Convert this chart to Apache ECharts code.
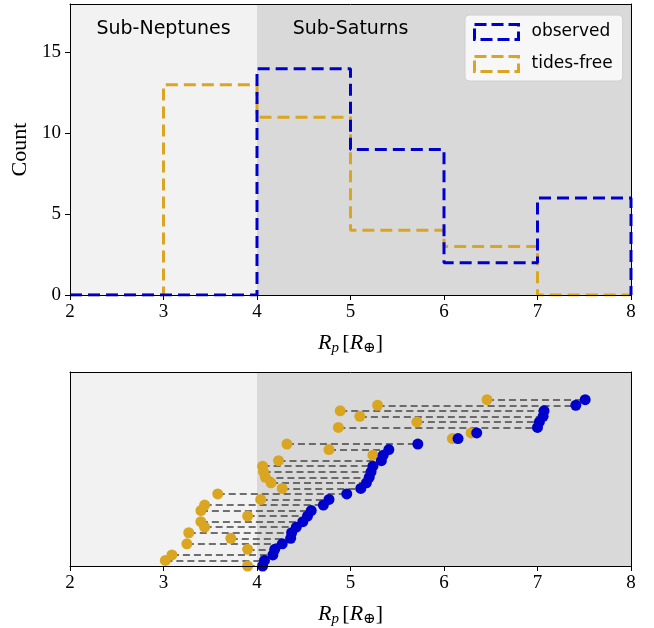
<!DOCTYPE html>
<html>
<head>
<meta charset="utf-8">
<script src="https://cdn.jsdelivr.net/npm/echarts@6/dist/echarts.min.js"></script>
<style>
  html, body { margin: 0; padding: 0; background: #fff; }
  #chart { width: 654px; height: 628px; }
</style>
</head>
<body>
<div id="chart"></div>
<script>
// histogram bins
const binEdges = [2, 3, 4, 5, 6, 7, 8];
const observedCounts = [0, 0, 14, 9, 2, 6];
const tidesFreeCounts = [0, 13, 11, 4, 3, 0];

// per planet radii, ordered by observed radius (row index = position in list)
const rpObserved = [4.06, 4.08, 4.17, 4.19, 4.27, 4.36, 4.37, 4.42, 4.49, 4.54, 4.58, 4.71, 4.77, 4.96,
  5.11, 5.17, 5.20, 5.22, 5.24, 5.33, 5.35, 5.41, 5.72, 6.15, 6.35, 7.00, 7.02, 7.06, 7.07, 7.41, 7.51];
const rpTidesFree = [3.90, 3.02, 3.09, 3.90, 3.25, 3.72, 3.27, 3.44, 3.40, 3.90, 3.40, 3.44, 4.04, 3.58,
  4.27, 4.15, 4.09, 4.07, 4.06, 4.23, 5.24, 4.77, 4.32, 6.09, 6.29, 4.87, 5.71, 5.10, 4.89, 5.29, 6.46];

const xTicks = [2, 3, 4, 5, 6, 7, 8];
const yTicksTop = [0, 5, 10, 15];

const BLUE = '#0000cd';
const GOLD = '#daa520';
const serif = 'Liberation Serif, DejaVu Serif, serif';
const sans = 'DejaVu Sans, sans-serif';

// step outline like matplotlib histtype='step'
function stepData(edges, counts) {
  let pts = [[edges[0], 0]];
  for (let i = 0; i < counts.length; i++) pts.push([edges[i], counts[i]]);
  pts.push([edges[edges.length - 1], counts[counts.length - 1]]);
  pts.push([edges[edges.length - 1], 0]);
  return pts;
}

const rows = rpObserved.map((v, i) => i);
const pairLines = rows.map(i => ({ coords: [[rpTidesFree[i], i], [rpObserved[i], i]] }));

const shade = {
  silent: true,
  data: [
    [{ xAxis: 2, itemStyle: { color: '#f2f2f2' } }, { xAxis: 4 }],
    [{ xAxis: 4, itemStyle: { color: '#d9d9d9' } }, { xAxis: 8 }]
  ]
};

const xLabelName = '{it|R}{sub|p} {n|[}{it|R}{sub|⊕}{n|]}';
const nameRich = {
  it: { fontFamily: serif, fontStyle: 'italic', fontSize: 22, color: '#000' },
  sub: { fontFamily: serif, fontStyle: 'italic', fontSize: 15, color: '#000', verticalAlign: 'bottom', padding: [10, 0, 0, 0] },
  n: { fontFamily: serif, fontSize: 22, color: '#000' }
};

function mainX(gi, nameGap) {
  return {
    gridIndex: gi, type: 'value', min: 2, max: 8, interval: 1, z: 10,
    axisLine: { show: true, onZero: false, lineStyle: { color: '#000', width: 1 } },
    axisTick: { inside: false, length: 5, lineStyle: { color: '#000' } },
    axisLabel: { fontFamily: serif, fontSize: 19, color: '#000', margin: 8,
      formatter: v => xTicks.includes(v) ? String(v) : '' },
    splitLine: { show: false },
    name: xLabelName, nameLocation: 'middle', nameGap: nameGap,
    nameTextStyle: { rich: nameRich }
  };
}
// plain axes on the top and right, only to close the frame
function frameAxis(gi, pos) {
  return {
    gridIndex: gi, type: 'value', position: pos, min: 0, max: 1, z: 10,
    axisLine: { show: true, onZero: false, lineStyle: { color: '#000', width: 1 } },
    axisTick: { show: false }, axisLabel: { show: false }, splitLine: { show: false }
  };
}

const option = {
  animation: false,
  grid: [
    { left: 70, top: 4, width: 561, height: 291 },
    { left: 70, top: 372, width: 561, height: 195 }
  ],
  xAxis: [
    mainX(0, 36),
    mainX(1, 36),
    frameAxis(0, 'top'),
    frameAxis(1, 'top')
  ],
  yAxis: [
    {
      gridIndex: 0, type: 'value', min: 0, max: 18, interval: 5, z: 10,
      axisLine: { show: true, onZero: false, lineStyle: { color: '#000' } },
      axisTick: { show: true, inside: false, length: 5, lineStyle: { color: '#000' } },
      axisLabel: { fontFamily: serif, fontSize: 19, color: '#000', margin: 9, showMaxLabel: false,
        formatter: v => yTicksTop.includes(v) ? String(v) : '' },
      splitLine: { show: false },
      name: 'Count', nameLocation: 'middle', nameGap: 38,
      nameTextStyle: { fontFamily: serif, fontSize: 22, color: '#000' }
    },
    {
      gridIndex: 1, type: 'value', min: 0, max: 35, z: 10,
      axisLine: { show: true, onZero: false, lineStyle: { color: '#000' } },
      axisTick: { show: false }, axisLabel: { show: false }, splitLine: { show: false }
    },
    frameAxis(0, 'right'),
    frameAxis(1, 'right')
  ],
  legend: {
    left: 465, top: 15,
    orient: 'vertical',
    itemWidth: 44, itemHeight: 15, itemGap: 14,
    padding: [8, 10, 8, 8],
    backgroundColor: '#f7f7f7',
    borderColor: '#d0d0d0', borderWidth: 1, borderRadius: 4,
    textStyle: { fontFamily: sans, fontSize: 17, color: '#000', padding: [0, 0, 0, 8] },
    data: [
      { name: 'observed', icon: 'rect',
        itemStyle: { color: 'rgba(0,0,0,0)', borderColor: BLUE, borderWidth: 3, borderType: [12, 5] } },
      { name: 'tides-free', icon: 'rect',
        itemStyle: { color: 'rgba(0,0,0,0)', borderColor: GOLD, borderWidth: 3, borderType: [12, 5] } }
    ]
  },
  series: [
    {
      name: 'tides-free', type: 'line', xAxisIndex: 0, yAxisIndex: 0,
      step: 'end', symbol: 'none', z: 3,
      data: stepData(binEdges, tidesFreeCounts),
      lineStyle: { color: GOLD, width: 3, type: [12, 6] },
      itemStyle: { color: GOLD },
      markArea: shade,
      markPoint: {
        symbol: 'circle', symbolSize: 0, silent: true,
        label: { show: true, position: 'inside', fontFamily: sans, fontSize: 19, color: '#000',
          formatter: p => p.name },
        data: [
          { name: 'Sub-Neptunes', coord: [3, 16.45] },
          { name: 'Sub-Saturns', coord: [5, 16.45] }
        ]
      }
    },
    {
      name: 'observed', type: 'line', xAxisIndex: 0, yAxisIndex: 0,
      step: 'end', symbol: 'none', z: 4,
      data: stepData(binEdges, observedCounts),
      lineStyle: { color: BLUE, width: 3, type: [12, 6] },
      itemStyle: { color: BLUE }
    },
    {
      name: 'pairs', type: 'lines', coordinateSystem: 'cartesian2d',
      xAxisIndex: 1, yAxisIndex: 1, z: 2, silent: true,
      data: pairLines,
      lineStyle: { color: '#4d4d4d', opacity: 0.8, width: 2.2, type: [7, 4] },
      markArea: shade
    },
    {
      name: 'tides-free pts', type: 'scatter', xAxisIndex: 1, yAxisIndex: 1, z: 3,
      symbolSize: 11, clip: true,
      data: rows.map(i => [rpTidesFree[i], i]),
      itemStyle: { color: GOLD, opacity: 1 }
    },
    {
      name: 'observed pts', type: 'scatter', xAxisIndex: 1, yAxisIndex: 1, z: 4,
      symbolSize: 11, clip: true,
      data: rows.map(i => [rpObserved[i], i]),
      itemStyle: { color: BLUE, opacity: 1 }
    }
  ]
};

const chart = echarts.init(document.getElementById('chart'), null, { renderer: 'canvas' });
chart.setOption(option);
</script>
</body>
</html>
